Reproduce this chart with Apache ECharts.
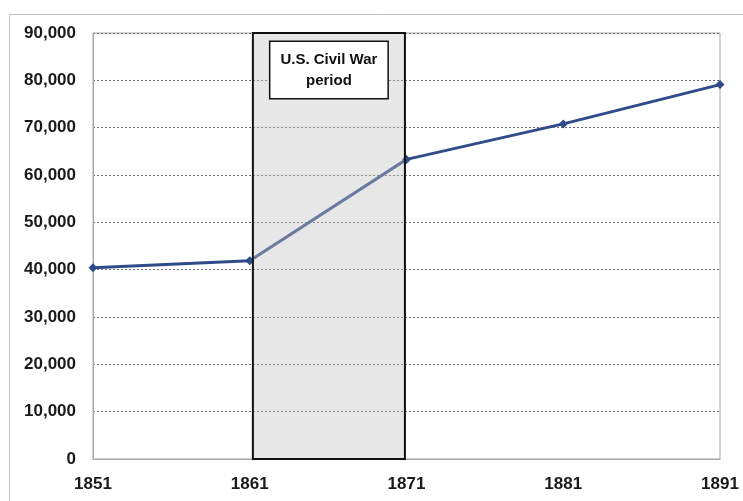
<!DOCTYPE html>
<html>
<head>
<meta charset="utf-8">
<script src="https://cdn.jsdelivr.net/npm/echarts@6/dist/echarts.min.js"></script>
<style>
  html, body { margin: 0; padding: 0; background: #fff; }
  #chart { width: 743px; height: 501px; }
</style>
</head>
<body>
<div id="chart"></div>
<script>
// Census years and population counts
const years = [1851, 1861, 1871, 1881, 1891];
const population = [40400, 41900, 63300, 70800, 79100];

// Shaded period and its caption
const warPeriod = [1861.2, 1870.9];
const warCaption = ['U.S. Civil War', 'period'];

// Value axis ticks
const yTicks = [0, 10000, 20000, 30000, 40000, 50000, 60000, 70000, 80000, 90000];
const xTickYears = [1851, 1861, 1871, 1881, 1891];

const baseYear = xTickYears[0];
const lineData = years.map((y, i) => [y - baseYear, population[i]]);
const fmt = v => v.toLocaleString('en-US');
const labelFont = 'Liberation Sans';

const chart = echarts.init(document.getElementById('chart'));
chart.setOption({
  animation: false,
  backgroundColor: '#fff',
  graphic: [{
    type: 'rect',
    left: 7, top: 12,
    shape: { width: 800, height: 600 },
    style: { fill: 'none', stroke: '#c4c4c4', lineWidth: 1 },
    silent: true
  }],
  grid: {
    left: 93, right: 23, top: 33, bottom: 42,
    show: true, borderColor: '#a8a8a8', borderWidth: 1
  },
  xAxis: {
    type: 'value',
    min: 0,
    max: xTickYears[xTickYears.length - 1] - baseYear,
    interval: 10,
    axisLine: { show: true, lineStyle: { color: '#a8a8a8', width: 1 } },
    axisTick: { show: false },
    splitLine: { show: false },
    axisLabel: {
      margin: 17,
      color: '#1a1a1a',
      fontFamily: labelFont,
      fontWeight: 'bold',
      fontSize: 17,
      formatter: v => String(baseYear + v)
    }
  },
  yAxis: {
    type: 'value',
    min: yTicks[0],
    max: yTicks[yTicks.length - 1],
    interval: yTicks[1] - yTicks[0],
    axisLine: { show: true, lineStyle: { color: '#a8a8a8', width: 1 } },
    axisTick: { show: false },
    splitLine: { show: true, lineStyle: { color: '#6a6a6a', type: [2, 2], width: 1 } },
    axisLabel: {
      margin: 17,
      color: '#1a1a1a',
      fontFamily: labelFont,
      fontWeight: 'bold',
      fontSize: 17,
      formatter: fmt
    }
  },
  series: [
    {
      type: 'line',
      data: lineData,
      z: 2,
      symbol: 'diamond',
      symbolSize: 9,
      lineStyle: { color: '#2f4b8a', width: 3 },
      itemStyle: { color: '#2f4b8a' }
    },
    {
      type: 'line',
      data: [],
      markArea: {
        z: 6,
        silent: true,
        itemStyle: {
          color: 'rgba(196,196,196,0.4)',
          borderColor: '#111',
          borderWidth: 2
        },
        label: {
          show: true,
          position: 'insideTop',
          distance: 10,
          formatter: warCaption.join('\n'),
          color: '#111',
          fontFamily: labelFont,
          fontWeight: 'bold',
          fontSize: 15,
          lineHeight: 21,
          align: 'center',
          backgroundColor: '#fff',
          borderColor: '#111',
          borderWidth: 1.5,
          padding: [7, 10]
        },
        data: [[
          { xAxis: warPeriod[0] - baseYear, yAxis: yTicks[yTicks.length - 1] },
          { xAxis: warPeriod[1] - baseYear, yAxis: yTicks[0] }
        ]]
      }
    }
  ]
});
</script>
</body>
</html>
